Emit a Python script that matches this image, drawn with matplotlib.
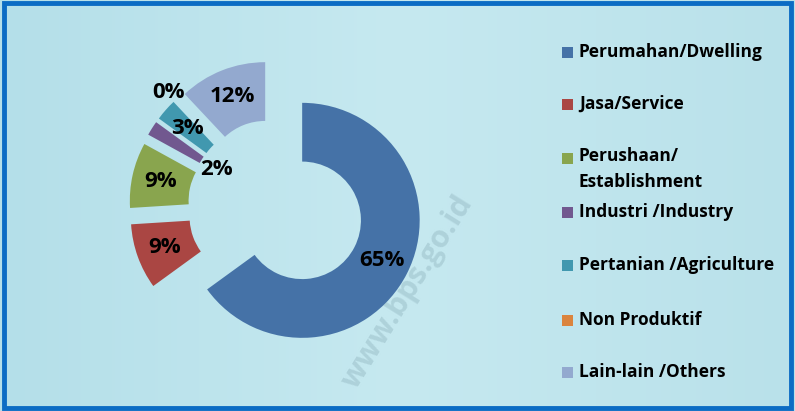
import numpy as np
import matplotlib.pyplot as plt
from matplotlib.colors import LinearSegmentedColormap
from matplotlib.patches import Rectangle

categories = ["Perumahan/Dwelling", "Jasa/Service", "Perushaan/\nEstablishment",
              "Industri /Industry", "Pertanian /Agriculture", "Non Produktif",
              "Lain-lain /Others"]
shares = [65, 9, 9, 2, 3, 0, 12]
colors = ["#4572A7", "#AA4643", "#89A54E", "#71588F", "#4198AF", "#DB843D", "#93A9CF"]

plt.rcParams["font.family"] = ["Open Sans", "DejaVu Sans"]

fig = plt.figure(figsize=(7.95, 4.11), dpi=100)
fig.patch.set_facecolor("#bde4ec")

# background panel (pixel coordinates)
bg = fig.add_axes([0, 0, 1, 1])
bg.set_xlim(0, 795)
bg.set_ylim(411, 0)
bg.axis("off")
water = LinearSegmentedColormap.from_list("water", ["#b4dfe9", "#c6e9f0", "#b9e1ea"])
bg.imshow(np.linspace(0, 1, 256).reshape(1, -1), extent=(0, 795, 411, 0),
          aspect="auto", cmap=water)
bg.text(408, 292, "www.bps.go.id", rotation=58, fontsize=22, fontweight="bold",
        color="#98bcc6", alpha=0.5, ha="center", va="center")
bg.add_patch(Rectangle((4, 3), 787, 405, fill=False, edgecolor="#0b6cc4", lw=3.5))

# legend, laid out like the original
legend_y = [52, 104, 158, 212, 265, 320, 372]
for name, col, y in zip(categories, colors, legend_y):
    bg.add_patch(Rectangle((562, y - 5), 11, 11, facecolor=col, edgecolor="none"))
    if "\n" in name:
        bg.text(579, y - 11, name, fontsize=12.5, fontweight="bold", va="top",
                ha="left", linespacing=1.6, color="black")
    else:
        bg.text(579, y, name, fontsize=12.5, fontweight="bold", va="center",
                ha="left", color="black")

# pie axes: 1 data unit = 117.5 px, centre at pixel (276, 207)
ax = fig.add_axes([0, 0, 1, 1])
ax.set_facecolor("none")
expl = [0.25] * len(shares)
wedges, texts, autotexts = ax.pie(
    shares, colors=colors, startangle=90, counterclock=False, explode=expl,
    radius=1.0, wedgeprops=dict(width=0.5, linewidth=0),
    autopct="%.0f%%", pctdistance=0.76,
    textprops=dict(fontsize=16, fontweight="bold", color="black"))

# small slices: move their labels
for i, r in [(3, 0.35), (5, 1.09)]:
    w = wedges[i]
    ang = np.deg2rad((w.theta1 + w.theta2) / 2)
    cx, cy = w.center
    autotexts[i].set_position((cx + r * np.cos(ang), cy + r * np.sin(ang)))

ax.set_xlim(-276 / 117.5, (795 - 276) / 117.5)
ax.set_ylim(-(411 - 207) / 117.5, 207 / 117.5)
ax.set_aspect("auto")
ax.axis("off")

plt.savefig("out.png", dpi=100, facecolor=fig.get_facecolor())
